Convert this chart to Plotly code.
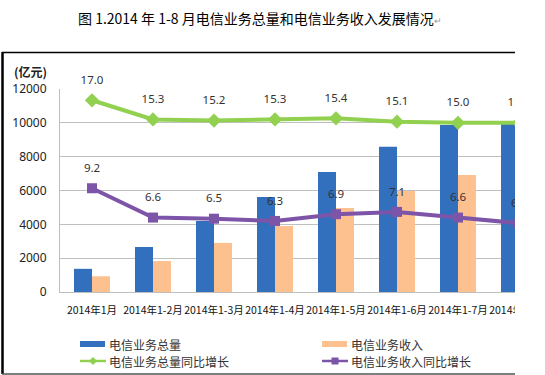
import plotly.graph_objects as go

categories = ["2014年1月", "2014年1-2月", "2014年1-3月", "2014年1-4月",
              "2014年1-5月", "2014年1-6月", "2014年1-7月", "2014年1-8月"]
volume = [1370, 2660, 4200, 5620, 7090, 8580, 9870, 9950]          # 电信业务总量 (亿元)
revenue = [930, 1830, 2900, 3900, 4960, 5970, 6910, 7900]          # 电信业务收入 (亿元)
volume_growth = [17.0, 15.3, 15.2, 15.3, 15.4, 15.1, 15.0, 15.0]   # 电信业务总量同比增长 (%)
revenue_growth = [9.2, 6.6, 6.5, 6.3, 6.9, 7.1, 6.6, 6.1]          # 电信业务收入同比增长 (%)
y_ticks = [0, 2000, 4000, 6000, 8000, 10000, 12000]
series_names = ["电信业务总量", "电信业务收入", "电信业务总量同比增长", "电信业务收入同比增长"]
series_colors = ["#3270BE", "#FDC08F", "#92D050", "#7D55A8"]

W, H = 545, 375
L, R, T, B = 60, 0, 89, 83
PW, PH = W - L - R, H - T - B


def px(x):
    return (x - L) / PW


def py(y):
    return (H - B - y) / PH


x_idx = list(range(len(categories)))
r0 = -0.5 - 1.5 / 61
r1 = r0 + PW / 61

fig = go.Figure()
fig.add_trace(go.Bar(x=x_idx, y=volume, name=series_names[0],
                     marker=dict(color=series_colors[0], line=dict(width=0))))
fig.add_trace(go.Bar(x=x_idx, y=revenue, name=series_names[1],
                     marker=dict(color=series_colors[1], line=dict(width=0))))
fig.add_trace(go.Scatter(x=x_idx, y=volume_growth, name=series_names[2], yaxis="y2",
                         mode="lines+markers", cliponaxis=False,
                         line=dict(color=series_colors[2], width=4),
                         marker=dict(symbol="diamond", size=11, color=series_colors[2])))
fig.add_trace(go.Scatter(x=x_idx, y=revenue_growth, name=series_names[3], yaxis="y2",
                         mode="lines+markers", cliponaxis=False,
                         line=dict(color=series_colors[3], width=4),
                         marker=dict(symbol="square", size=10, color=series_colors[3])))
for vals in (volume_growth, revenue_growth):
    fig.add_trace(go.Scatter(x=x_idx, y=vals, yaxis="y2", mode="markers+text",
                             text=[f"{v:.1f}" for v in vals], textposition="top center",
                             cliponaxis=False,
                             textfont=dict(family="Noto Sans", size=11.5, color="#333333"),
                             marker=dict(size=20, opacity=0), showlegend=False,
                             hoverinfo="skip"))

shapes = [
    # white cover for the cropped right edge
    dict(type="rect", xref="paper", yref="paper", x0=px(515), x1=px(560), y0=py(380), y1=py(-5),
         fillcolor="white", line=dict(width=0), layer="above"),
    # frame
    dict(type="line", xref="paper", yref="paper", x0=px(2.5), x1=px(2.5), y0=py(52), y1=py(374),
         line=dict(color="black", width=2.5), layer="above"),
    dict(type="line", xref="paper", yref="paper", x0=px(2), x1=px(515), y0=py(52.5), y1=py(52.5),
         line=dict(color="black", width=1.5), layer="above"),
    dict(type="line", xref="paper", yref="paper", x0=px(2), x1=px(515), y0=py(374), y1=py(374),
         line=dict(color="#555555", width=1.5), layer="above"),
]

# manual legend (2 x 2)
leg_cols = [80, 322]
leg_rows = [344, 361]
annotations = []
for i, name in enumerate(series_names):
    cx = leg_cols[i % 2]
    cy = leg_rows[i // 2]
    col = series_colors[i]
    if i < 2:
        shapes.append(dict(type="rect", xref="paper", yref="paper",
                           x0=px(cx), x1=px(cx + 25), y0=py(cy + 3), y1=py(cy - 3),
                           fillcolor=col, line=dict(width=0), layer="above"))
    else:
        shapes.append(dict(type="line", xref="paper", yref="paper",
                           x0=px(cx), x1=px(cx + 26), y0=py(cy), y1=py(cy),
                           line=dict(color=col, width=2.5), layer="above"))
        mx = cx + 13
        if i == 2:
            path = (f"M{px(mx - 4)},{py(cy)} L{px(mx)},{py(cy - 4)} "
                    f"L{px(mx + 4)},{py(cy)} L{px(mx)},{py(cy + 4)} Z")
        else:
            path = (f"M{px(mx - 3.5)},{py(cy - 3.5)} L{px(mx + 3.5)},{py(cy - 3.5)} "
                    f"L{px(mx + 3.5)},{py(cy + 3.5)} L{px(mx - 3.5)},{py(cy + 3.5)} Z")
        shapes.append(dict(type="path", xref="paper", yref="paper", path=path,
                           fillcolor=col, line=dict(width=0), layer="above"))
    annotations.append(dict(text=name, xref="paper", yref="paper", x=px(cx + 28), y=py(cy),
                            xanchor="left", yanchor="middle", showarrow=False, borderpad=0,
                            font=dict(family="Noto Sans CJK SC", size=12, color="#333333")))

annotations += [
    dict(text="图 1.2014 年 1-8 月电信业务总量和电信业务收入发展情况<span style='color:#999999;font-size:9px'>↵</span>",
         xref="paper", yref="paper", x=px(260), y=py(18), xanchor="center", yanchor="middle",
         showarrow=False, font=dict(family="Noto Sans CJK SC", size=14, color="black")),
    dict(text="<b>(亿元)</b>", xref="paper", yref="paper", x=px(30), y=py(71),
         xanchor="center", yanchor="middle", showarrow=False,
         font=dict(family="Noto Sans CJK SC", size=12, color="#222222")),
]

fig.update_layout(
    width=W, height=H,
    margin=dict(l=L, r=R, t=T, b=B, autoexpand=False),
    paper_bgcolor="white", plot_bgcolor="white",
    barmode="group", bargap=0.41, bargroupgap=0,
    showlegend=False,
    xaxis=dict(range=[r0, r1], tickmode="array", tickvals=x_idx, ticktext=categories,
               tickangle=0,
               showgrid=False, showline=True, linecolor="#BFBFBF", linewidth=1,
               ticks="", tickfont=dict(family="Noto Sans CJK SC", size=10.5, color="#111111"),
               ticklabelstandoff=8, ticklabeloverflow="allow", automargin=False),
    yaxis=dict(range=[0, 12000], tickmode="array", tickvals=y_ticks,
               ticktext=[str(v) for v in y_ticks], showgrid=True, gridcolor="#BFBFBF",
               gridwidth=1, showline=True, linecolor="#BFBFBF", zeroline=False,
               tickfont=dict(family="Noto Sans", size=12, color="#222222"),
               ticklabelstandoff=10, automargin=False),
    yaxis2=dict(range=[0, 18], overlaying="y", side="right", visible=False),
    shapes=shapes,
    annotations=annotations,
    hovermode=False,
)

fig.write_html("out.html", config={"displayModeBar": False},
               post_script="document.body.style.margin='0';")
